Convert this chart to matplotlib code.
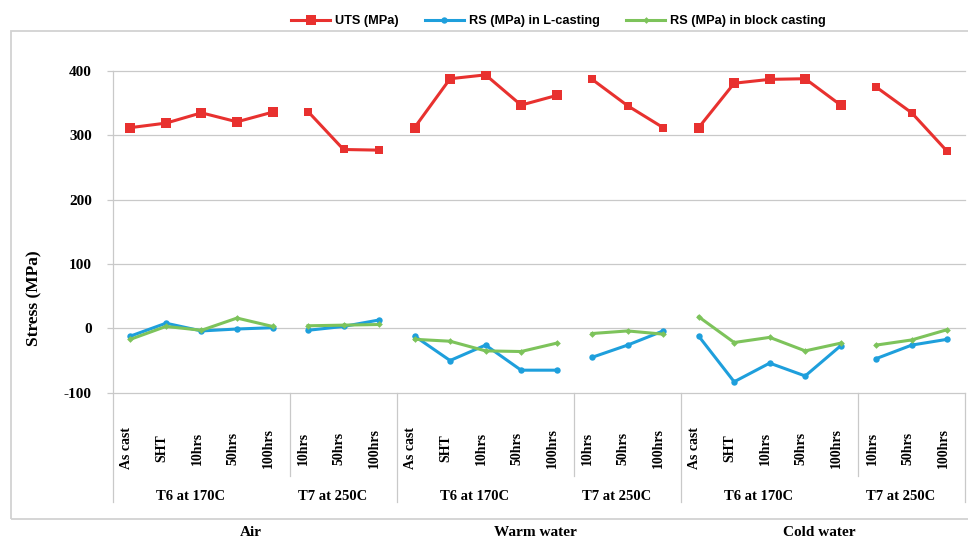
import numpy as np
import matplotlib
matplotlib.use('Agg')
import matplotlib.pyplot as plt
import matplotlib.transforms as mtransforms
from matplotlib.lines import Line2D
from matplotlib.patches import Rectangle

plt.rcParams['axes.unicode_minus'] = False

# 冷却介质 / 热处理 / 时效时间
media = ['Air', 'Warm water', 'Cold water']
treatments = ['T6 at 170C', 'T7 at 250C']
t6_steps = ['As cast', 'SHT', '10hrs', '50hrs', '100hrs']
t7_steps = ['10hrs', '50hrs', '100hrs']

# 应力数据 (MPa)，每种介质 8 个点：T6 五个 + T7 三个
uts = [312, 319, 335, 321, 336, 337, 278, 277,
       312, 388, 394, 347, 362, 387, 346, 312,
       312, 381, 387, 388, 347, 375, 335, 275]
rs_l_casting = [-12, 8, -4, -1, 1, -3, 3, 13,
                -12, -50, -26, -65, -65, -45, -26, -4,
                -12, -83, -54, -74, -27, -47, -26, -17]
rs_block_casting = [-17, 3, -3, 16, 3, 4, 5, 6,
                    -17, -20, -35, -36, -23, -8, -4, -9,
                    18, -22, -14, -35, -23, -26, -18, -2]

series_names = ['UTS (MPa)', 'RS (MPa) in L-casting', 'RS (MPa) in block casting']
yticks = [-100, 0, 100, 200, 300, 400]

RED = '#e8312f'
BLUE = '#1e9fdc'
GREEN = '#7dc35b'
GRID = '#c9c9c9'

serif = ['Liberation Serif', 'DejaVu Serif']
sans = ['Liberation Sans', 'DejaVu Sans']


def main():
    fig = plt.figure(figsize=(9.68, 5.39), dpi=100)
    W, H = 968.0, 539.0

    # 外框
    fig.patches.append(Rectangle((11 / W, 1 - 519 / H), 1.2, (519 - 30.7) / H,
                                 transform=fig.transFigure, fill=False,
                                 edgecolor='#d2d2d2', linewidth=1.3, zorder=0))

    left, right, top, bottom = 112.7, 965.0, 71.0, 392.7
    ax = fig.add_axes([left / W, 1 - bottom / H, (right - left) / W, (bottom - top) / H])

    n = len(uts)
    x = np.arange(n)
    ax.set_xlim(-0.5, n - 0.5)
    ax.set_ylim(yticks[0], yticks[-1])
    ax.set_yticks(yticks)
    # 网格线（两端不裁剪）
    for yv in yticks:
        ax.axhline(yv, color=GRID, linewidth=0.9, zorder=1, clip_on=False)
    for s in ['top', 'right', 'bottom', 'left']:
        ax.spines[s].set_visible(False)
    ax.set_xticks([])
    ax.tick_params(axis='y', length=4, width=0.9, color=GRID, pad=11)
    for lab in ax.get_yticklabels():
        lab.set_fontfamily(serif)
        lab.set_fontweight('bold')
        lab.set_fontsize(11)

    # 每个介质中 T6、T7 分别连线
    per_medium = len(t6_steps) + len(t7_steps)
    handles = []
    for m in range(len(media)):
        start = m * per_medium
        segs = [(start, start + len(t6_steps), 7.2),
                (start + len(t6_steps), start + per_medium, 5.8)]
        for a, b, ms in segs:
            xs = x[a:b]
            h1, = ax.plot(xs, uts[a:b], color=RED, lw=2.2, marker='s', ms=ms,
                          markeredgewidth=0, zorder=3)
            h2, = ax.plot(xs, rs_l_casting[a:b], color=BLUE, lw=2.2, marker='o', ms=4.6,
                          markeredgewidth=0, zorder=3)
            h3, = ax.plot(xs, rs_block_casting[a:b], color=GREEN, lw=2.2, marker='D', ms=3.4,
                          markeredgewidth=0, zorder=4)
            if not handles:
                handles = [h1, h2, h3]

    fig.legend(handles, series_names, loc='center', bbox_to_anchor=(0.577, 1 - 21 / H),
               ncol=3, frameon=False, handlelength=3.0, columnspacing=2.1, handletextpad=0.4,
               prop={'family': sans, 'weight': 'bold', 'size': 9.2})

    fig.text(34 / W, 1 - 298 / H, 'Stress (MPa)', rotation=90, ha='center', va='center',
             fontfamily=serif, fontweight='bold', fontsize=12.5)

    # 多级分类坐标轴
    trans = mtransforms.blended_transform_factory(ax.transData, ax.transAxes)
    ph = bottom - top

    def ay(py):
        return (bottom - py) / ph

    steps = t6_steps + t7_steps
    for i in range(n):
        ax.text(i - 0.12, ay(448), steps[i % per_medium], rotation=90, ha='center', va='center',
                transform=trans, fontfamily=serif, fontweight='bold', fontsize=10)

    # 左右两端与介质分隔线
    for m in range(len(media) + 1):
        xb = m * per_medium - 0.5
        ax.add_line(Line2D([xb, xb], [1.0 if m == 0 else 0.0, ay(502)], transform=trans,
                           color=GRID, lw=0.9, clip_on=False))
    for m in range(len(media)):
        start = m * per_medium
        xb = start + len(t6_steps) - 0.5
        ax.add_line(Line2D([xb, xb], [0.0, ay(476)], transform=trans,
                           color=GRID, lw=0.9, clip_on=False))
        c6 = start + (len(t6_steps) - 1) / 2.0
        c7 = start + len(t6_steps) + (len(t7_steps) - 1) / 2.0
        for c, t in zip([c6, c7], treatments):
            ax.text(c - 0.3, ay(497), t, ha='center', va='center', transform=trans,
                    fontfamily=serif, fontweight='bold', fontsize=10.5)
        ax.text(start + (per_medium - 1) / 2.0 - 0.1, ay(533), media[m], ha='center', va='center',
                transform=trans, fontfamily=serif, fontweight='bold', fontsize=11)

    fig.savefig('out.png', dpi=100)


if __name__ == '__main__':
    main()
